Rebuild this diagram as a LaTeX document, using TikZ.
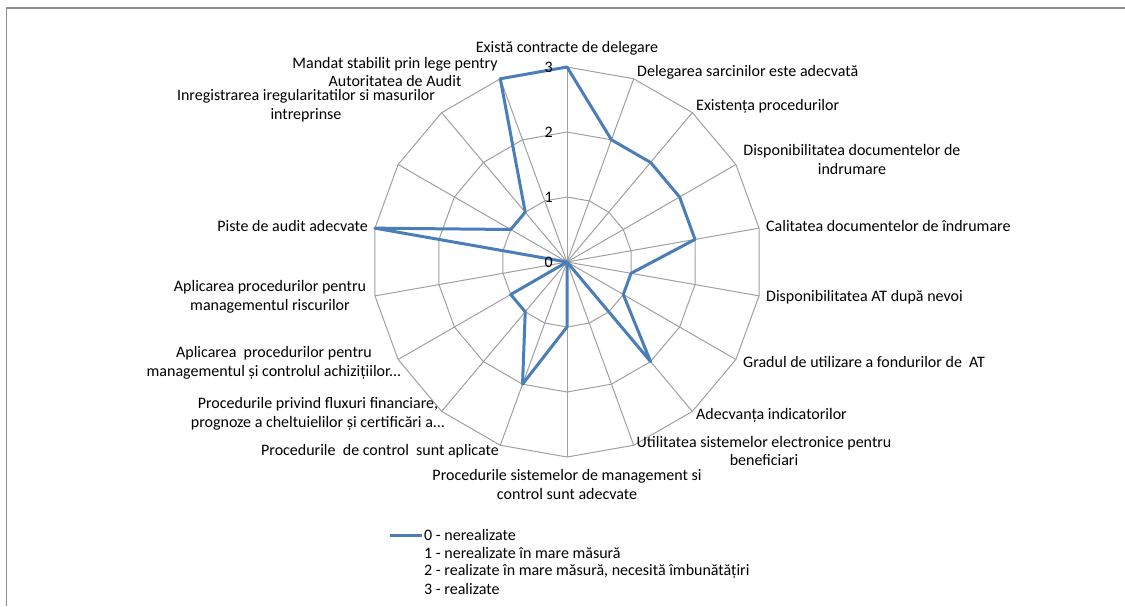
\documentclass[tikz,border=0pt]{standalone}
\usepackage{fontspec}
\setmainfont{Carlito}
\usetikzlibrary{calc}
\definecolor{gridc}{HTML}{A0A0A0}
\definecolor{serc}{HTML}{4A7EBB}
\definecolor{framec}{HTML}{8C8C8C}
\begin{document}
\begin{tikzpicture}[x=1pt,y=-1pt,
  lbl/.style={font=\fontsize{16}{18.7}\selectfont, inner sep=0pt, align=center, text=black},
  ticklbl/.style={font=\fontsize{16}{18.7}\selectfont, inner sep=0pt, anchor=east, text=black},
  gridline/.style={draw=gridc, line width=1pt},
  series/.style={draw=serc, line width=3pt, line join=round}]
\useasboundingbox (0,0) rectangle (1125,606);
\fill[white] (0,0) rectangle (1125,606);
\draw[framec, line width=1.3pt] (6.5,606) -- (6.5,8) -- (1125,8);
\coordinate (c) at (567,262);
% rings
\foreach \r in {65,130,195} {
  \draw[gridline] ($(c)+(-90:\r)$) \foreach \k in {1,...,17} { -- ($(c)+(20*\k-90:\r)$) } -- cycle;
}
% spokes
\foreach \k in {0,...,17} {
  \coordinate (a\k) at ($(c)+(20*\k-90:195)$);
  \draw[gridline] (c) -- (a\k);
}
% data
\foreach \k/\v in {0/3,1/2,2/2,3/2,4/2,5/1,6/1,7/2,8/0,9/1,10/2,11/1,12/1,13/0,14/3,15/1,16/1,17/3} {
  \coordinate (v\k) at ($(c)+(20*\k-90:65*\v)$);
}
\draw[series] (v0) -- (v1) -- (v2) -- (v3) -- (v4) -- (v5) -- (v6) -- (v7) -- (v8) -- (v9) -- (v10) -- (v11) -- (v12) -- (v13) -- (v14) -- (v15) -- (v16) -- (v17) -- cycle;
% tick labels
\node[ticklbl] (t0) at (553,262) {0};
\node[ticklbl] (t1) at (553,197) {1};
\node[ticklbl] (t2) at (553,132) {2};
\node[ticklbl] (t3) at (553,67) {3};
% category labels
\node[lbl] (l0) at (567,48) {Există contracte de delegare};
\node[lbl, anchor=west] (l1) at (637,72) {Delegarea sarcinilor este adecvată};
\node[lbl, anchor=west] (l2) at (696,106) {Existența procedurilor};
\node[lbl] (l3) at (852,159.5) {Disponibilitatea documentelor de\\indrumare};
\node[lbl, anchor=west] (l4) at (766,226) {Calitatea documentelor de îndrumare};
\node[lbl, anchor=west] (l5) at (766,297) {Disponibilitatea AT după nevoi};
\node[lbl, anchor=west] (l6) at (743,362) {Gradul de utilizare a fondurilor de\ \ AT};
\node[lbl, anchor=west] (l7) at (696,415) {Adecvanța indicatorilor};
\node[lbl] (l8) at (764,451) {Utilitatea sistemelor electronice pentru\\beneficiari};
\node[lbl] (l9) at (567,484.5) {Procedurile sistemelor de management si\\control sunt adecvate};
\node[lbl, anchor=east] (l10) at (499,451) {Procedurile\ \ de control\ \ sunt aplicate};
\node[lbl] (l11) at (318,414) {Procedurile privind fluxuri financiare,\\prognoze a cheltuielilor și certificări a...};
\node[lbl] (l12) at (274,363) {Aplicarea\ \ procedurilor pentru\\managementul și controlul achizițiilor...};
\node[lbl] (l13) at (270,297) {Aplicarea procedurilor pentru\\managementul riscurilor};
\node[lbl, anchor=east] (l14) at (368,226) {Piste de audit adecvate};
\node[lbl] (l16) at (306,106) {Inregistrarea iregularitatilor si masurilor\\intreprinse};
\node[lbl] (l17) at (395,72) {Mandat stabilit prin lege pentry\\Autoritatea de Audit};
% legend
\coordinate (lg1) at (390,535);
\coordinate (lg2) at (422,535);
\draw[series] (lg1) -- (lg2);
\node[lbl, anchor=west] (g0) at (424,535) {0 - nerealizate};
\node[lbl, anchor=west] (g1) at (424,553) {1 - nerealizate în mare măsură};
\node[lbl, anchor=west] (g2) at (424,571) {2 - realizate în mare măsură, necesită îmbunătățiri};
\node[lbl, anchor=west] (g3) at (424,589) {3 - realizate};
\end{tikzpicture}
\end{document}
